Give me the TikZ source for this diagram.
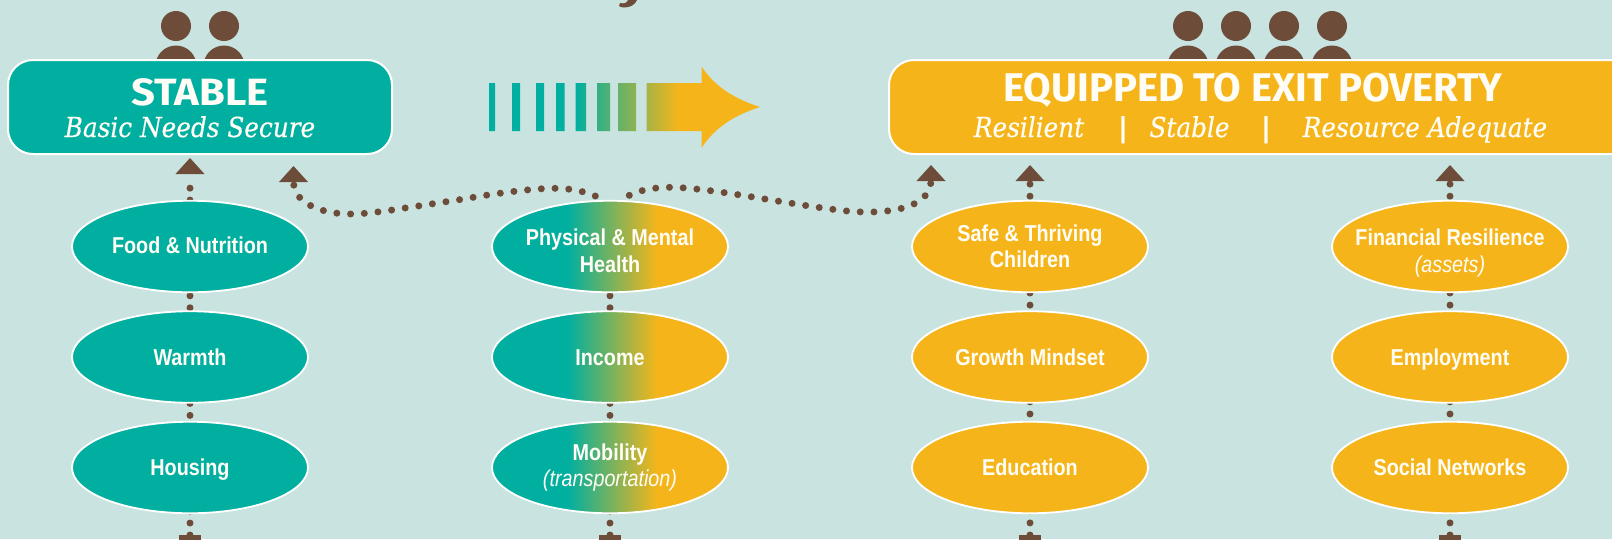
\documentclass[tikz,border=0pt]{standalone}
\usepackage{fontspec}
\usetikzlibrary{shapes.geometric}
\newfontfamily\labelfont[FakeStretch=0.86]{Liberation Sans}
\newfontfamily\headfont{Fira Sans}
\newfontfamily\stablefont[FakeStretch=1.1]{Fira Sans}
\newfontfamily\subfont[FakeStretch=0.9,ItalicFeatures={FakeBold=0.5}]{DejaVu Serif}
\definecolor{BackColor}{HTML}{C9E4E0}
\definecolor{TealColor}{HTML}{00AFA0}
\definecolor{GoldColor}{HTML}{F5B51A}
\definecolor{BrownColor}{HTML}{6D4C39}
\definecolor{TextColor}{HTML}{FFFDF5}
\pgfdeclarehorizontalshading{teal_gold}{100bp}{color(0bp)=(TealColor); color(41bp)=(TealColor); color(60bp)=(GoldColor); color(100bp)=(GoldColor)}
\tikzstyle{oval}=[ellipse,
                  minimum width=236pt,
                  minimum height=91.5pt,
                  inner sep=0pt,
                  draw=white,
                  line width=1.8pt,
                  text=TextColor,
                  align=center,
                  font=\labelfont\bfseries\fontsize{23}{26.5}\selectfont]
\tikzstyle{one_line}=[text height=16.6pt, text depth=0pt]
\tikzstyle{oval_text}=[inner sep=0pt,
                       text=TextColor,
                       align=center,
                       font=\labelfont\bfseries\fontsize{23}{26.5}\selectfont]
\tikzstyle{banner}=[rectangle,
                    minimum height=94pt,
                    rounded corners=25pt,
                    draw=white,
                    line width=2pt]
\tikzstyle{head_text}=[anchor=base, inner sep=0pt, text=TextColor,
                       font=\headfont\bfseries\fontsize{38}{40}\selectfont]
\tikzstyle{sub_text}=[anchor=base, inner sep=0pt, text=TextColor,
                      font=\subfont\itshape\fontsize{27.5}{29}\selectfont]
\tikzstyle{up_mark}=[isosceles triangle,
                     isosceles triangle stretches,
                     shape border rotate=90,
                     minimum width=29pt,
                     minimum height=16pt,
                     inner sep=0pt,
                     outer sep=0pt,
                     fill=BrownColor,
                     anchor=apex]
\tikzstyle{stub}=[rectangle,
                  minimum width=22pt,
                  minimum height=5pt,
                  inner sep=0pt,
                  outer sep=0pt,
                  fill=BrownColor]
\tikzstyle{dot_link}=[draw=BrownColor,
                      line width=7pt,
                      line cap=round]
\begin{document}
\begin{tikzpicture}[x=1pt, y=-1pt]
    \useasboundingbox (0,0) rectangle (1612,539);
    \clip (0,0) rectangle (1612,539);
    \fill[BackColor] (0,0) rectangle (1612,539);

    % tail of the cut off title
    \fill[BrownColor] (628,0) -- (637,0) .. controls (635,5) and (630,7.5) .. (624,7.5)
        .. controls (622,7.5) and (620,7) .. (619,6) -- (620,3) .. controls (624,4) and (627,3) .. (628,0) -- cycle;

    % people
    \foreach \x in {176,224,1188,1236,1284,1332} {
      \fill[BrownColor] (\x,26) circle (15pt);
      \fill[BrownColor] (\x,66) circle (20.5pt);
    }

    \node at (200,107) (stable_box) [banner, fill=TealColor, minimum width=384pt] {};
    \node at (1270,107) (exit_box) [banner, fill=GoldColor, minimum width=762pt] {};

    \node at (200,105) (stable_head) [head_text, font=\stablefont\bfseries\fontsize{38}{40}\selectfont] {STABLE};
    \node at (190,137) (stable_sub) [sub_text] {Basic Needs Secure};
    \node at (1253,101.5) (exit_head) [head_text, font=\headfont\bfseries\fontsize{40}{42}\selectfont] {EQUIPPED TO EXIT POVERTY};
    \node at (1029,137) (exit_sub_a) [sub_text] {Resilient};
    \node at (1123,137) (exit_bar_a) [sub_text, font=\labelfont\bfseries\fontsize{29}{31}\selectfont] {|};
    \node at (1189.5,137) (exit_sub_b) [sub_text] {Stable};
    \node at (1266,137) (exit_bar_b) [sub_text, font=\labelfont\bfseries\fontsize{29}{31}\selectfont] {|};
    \node at (1425,137) (exit_sub_c) [sub_text] {Resource Adequate};

    % bars and arrow
    \shade[shading=teal_gold]
        (489,83) rectangle (495,131)
        (512,83) rectangle (520,131)
        (536,83) rectangle (544,131)
        (556,83) rectangle (564.5,131)
        (575.5,83) rectangle (586,131)
        (597,83) rectangle (610,131)
        (618,83) rectangle (636,131)
        (646.5,83) -- (701.5,83) -- (701.5,66.5)
        .. controls (715,87) and (735,99) .. (760,107)
        .. controls (735,115) and (715,127) .. (701.5,148)
        -- (701.5,131) -- (646.5,131) -- cycle;

    % marks on top, stubs at the bottom
    \foreach \n/\x/\y in {food/190/158, care/293.5/166, spread/931/165, safe/1030/165, bank/1450/165} {
      \node at (\x,\y) (mark_\n) [up_mark] {};
    }
    \foreach \n/\x in {housing/190, mobility/610, education/1030, network/1450} {
      \node at (\x,537.5) (stub_\n) [stub] {};
    }
    \coordinate (health_mid) at (610,246);
    \coordinate (health_left) at (595.3,196);
    \coordinate (health_right) at (629.3,195.3);

    % dotted links
    \draw[dot_link, dash pattern=on 0pt off 11.96pt, shorten >=10pt] (stub_housing.north) -- (mark_food.lower side);
    \draw[dot_link, dash pattern=on 0pt off 11.96pt] (stub_mobility.north) -- (health_mid);
    \draw[dot_link, dash pattern=on 0pt off 12.1pt] (stub_education.north) -- (mark_safe.lower side);
    \draw[dot_link, dash pattern=on 0pt off 12.1pt] (stub_network.north) -- (mark_bank.lower side);
    \draw[dot_link, dash pattern=on 0pt off 13.75pt] (health_left)
        .. controls (583,191) and (570,188.3) .. (555,188.3)
        .. controls (535,188.3) and (500,192.5) .. (459.3,199.7)
        -- (392,210)
        .. controls (378,212) and (364,214) .. (350,214)
        .. controls (325,214) and (294,205) .. (mark_care.lower side);
    \draw[dot_link, dash pattern=on 0pt off 13.75pt] (health_right)
        .. controls (640,190) and (655,187.3) .. (669.3,187.3)
        .. controls (710,187.3) and (790,205) .. (847,211)
        .. controls (888,215) and (930.5,208) .. (mark_spread.lower side);

    % first column
    \node at (190,246.5) (food) [oval, one_line, text height=13.6pt, fill=TealColor] {Food \& Nutrition};
    \foreach \n/\y/\t in {warmth/357/Warmth, housing/467.5/Housing} {
      \node at (190,\y) (\n) [oval, one_line, fill=TealColor] {\t};
    }
    % second column
    \node at (610,246.5) (health) [oval, shading=teal_gold] {};
    \node at (610,251) (health_text) [oval_text] {Physical \& Mental\\Health};
    \node at (610,357) (income) [oval, one_line, shading=teal_gold] {Income};
    \node at (610,467.5) (mobility) [oval, shading=teal_gold] {Mobility\\{\fontseries{m}\itshape (transportation)}};
    % third column
    \node at (1030,246.5) (safe) [oval, fill=GoldColor] {Safe \& Thriving\\Children};
    \foreach \n/\y/\t in {mindset/357/Growth Mindset, education/467.5/Education} {
      \node at (1030,\y) (\n) [oval, one_line, fill=GoldColor] {\t};
    }
    % fourth column
    \node at (1450,246.5) (bank) [oval, fill=GoldColor] {};
    \node at (1450,253) (bank_text) [oval_text] {Financial Resilience\\{\fontseries{m}\itshape (assets)}};
    \foreach \n/\y/\t in {work/357/Employment, network/467.5/Social Networks} {
      \node at (1450,\y) (\n) [oval, one_line, fill=GoldColor] {\t};
    }
\end{tikzpicture}
\end{document}
